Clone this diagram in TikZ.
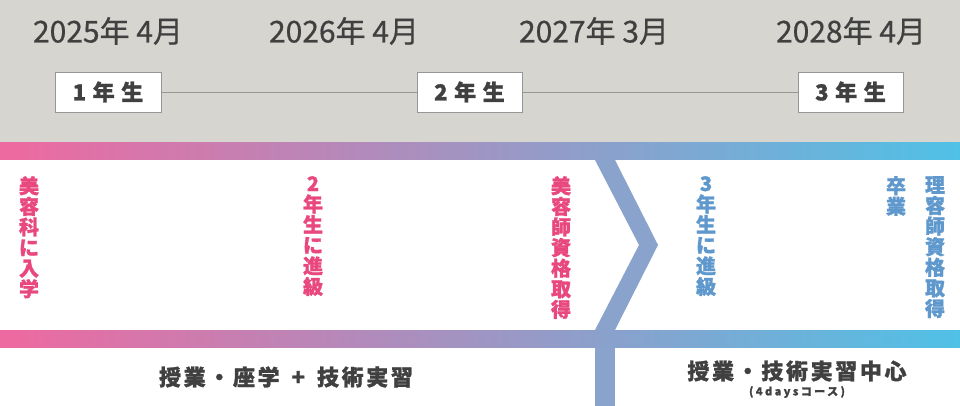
\documentclass[tikz,border=0pt]{standalone}
\usepackage{fontspec}
\newfontfamily\jp{Noto Sans CJK JP}
\usetikzlibrary{positioning}
\definecolor{bggray}{RGB}{214,213,207}
\definecolor{gpink}{RGB}{238,105,160}
\definecolor{gcyan}{RGB}{80,193,230}
\definecolor{chev}{RGB}{138,163,205}
\definecolor{tpink}{RGB}{232,72,126}
\definecolor{tblue}{RGB}{94,152,204}
\definecolor{tdark}{RGB}{64,64,64}
\definecolor{boxline}{RGB}{150,150,150}
\tikzset{
  datelbl/.style={font=\jp\fontsize{30}{32}\selectfont\addfontfeature{FakeBold=0.6}, text=tdark, inner sep=0pt},
  yearbox/.style={draw=boxline, line width=0.8pt, fill=white, minimum width=105pt, minimum height=40pt, inner sep=0pt, font=\jp\bfseries\fontsize{22}{24}\selectfont\addfontfeature{LetterSpace=30,FakeBold=1.2}, text=tdark},
  vtext/.style={font=\jp\bfseries\fontsize{20}{20.6}\selectfont\addfontfeature{FakeBold=1.2}, align=center, inner sep=0pt, anchor=north},
  course/.style={font=\jp\bfseries\fontsize{22}{24}\selectfont\addfontfeature{LetterSpace=12,FakeBold=1.2}, text=tdark, inner sep=0pt},
}
\begin{document}
\begin{tikzpicture}[x=1pt,y=-1pt]
\useasboundingbox (0,0) rectangle (960,406);
\fill[bggray] (0,0) rectangle (960,143);
\fill[white] (0,143) rectangle (960,406);
% bands
\shade[left color=gpink, right color=gcyan] (0,143) rectangle (960,160);
\shade[left color=gpink, right color=gcyan] (0,330) rectangle (960,347);
% chevron
\fill[chev] (595,160) -- (615,160) -- (658,245) -- (615,330) -- (595,330) -- (639,245) -- cycle;
\fill[chev] (595,347) rectangle (615,406);
% dates
\node[datelbl] (d1) at (108,31) {2025年 4月};
\node[datelbl] (d2) at (344,31) {2026年 4月};
\node[datelbl] (d3) at (594,31) {2027年 3月};
\node[datelbl] (d4) at (851,31) {2028年 4月};
% year boxes
\draw[boxline, line width=0.8pt] (108,92) -- (851,92);
\node[yearbox, minimum width=106pt] (y1) at (108,92) {1年生};
\node[yearbox] (y2) at (469.5,92) {2年生};
\node[yearbox] (y3) at (850.5,92) {3年生};
% vertical texts
\node[vtext, text=tpink] (v1) at (29,176) {美\\容\\科\\に\\入\\学};
\node[vtext, text=tpink] (v2) at (313,176) {2\\年\\生\\に\\進\\級};
\node[vtext, text=tpink] (v3) at (561,176) {美\\容\\師\\資\\格\\取\\得};
\node[vtext, text=tblue] (v4) at (706,176) {3\\年\\生\\に\\進\\級};
\node[vtext, text=tblue] (v5) at (896,176) {卒\\業};
\node[vtext, text=tblue] (v6) at (935,176) {理\\容\\師\\資\\格\\取\\得};
% course texts
\node[course] (c1) at (286,377) {授業・座学\hspace{12pt}+\hspace{12pt}技術実習};
\node[course] (c2) at (797,371) {授業・技術実習中心};
\node[font=\jp\bfseries\fontsize{11}{12}\selectfont\addfontfeature{LetterSpace=22,FakeBold=0.8}, text=tdark, inner sep=0pt] (c3) at (797,392) {(4daysコース)};
\end{tikzpicture}
\end{document}
